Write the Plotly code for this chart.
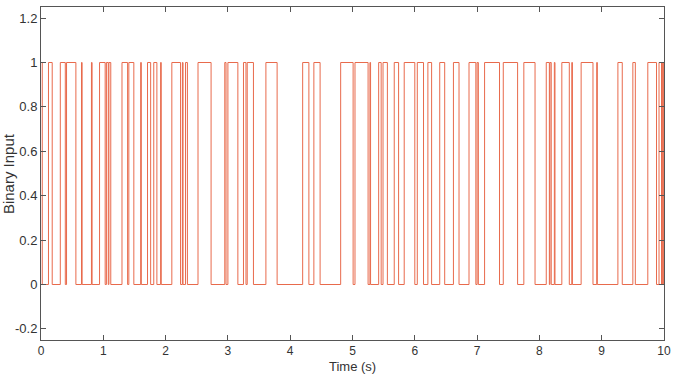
import plotly.graph_objects as go

# Transition times (s) and the level held from each time until the next one
switch_times = [0.00, 0.02, 0.12, 0.18, 0.31, 0.39, 0.41, 0.56, 0.65, 0.66,
                0.81, 0.82, 0.94, 1.03, 1.05, 1.08, 1.09, 1.12, 1.30, 1.39,
                1.41, 1.49, 1.60, 1.61, 1.71, 1.76, 1.81, 1.86, 1.92, 1.93,
                2.10, 2.24, 2.27, 2.28, 2.32, 2.35, 2.52, 2.73, 2.95, 2.97,
                3.00, 3.16, 3.25, 3.29, 3.31, 3.41, 3.61, 3.79, 4.20, 4.30,
                4.38, 4.48, 4.81, 5.01, 5.04, 5.25, 5.28, 5.29, 5.42, 5.46,
                5.49, 5.56, 5.67, 5.74, 5.83, 6.00, 6.04, 6.14, 6.21, 6.27,
                6.40, 6.48, 6.62, 6.71, 6.87, 6.98, 7.00, 7.02, 7.12, 7.36,
                7.42, 7.65, 7.75, 7.93, 8.11, 8.16, 8.17, 8.19, 8.24, 8.25,
                8.36, 8.48, 8.52, 8.53, 8.67, 8.86, 8.92, 8.93, 9.26, 9.33,
                9.50, 9.54, 9.74, 9.88, 9.92, 9.96, 9.97, 9.98, 9.99, 10.00]
levels = [1, 0, 1, 0, 1, 0, 1, 0, 1, 0,
          1, 0, 1, 0, 1, 0, 1, 0, 1, 0,
          1, 0, 1, 0, 1, 0, 1, 0, 1, 0,
          1, 0, 1, 0, 1, 0, 1, 0, 1, 0,
          1, 0, 1, 0, 1, 0, 1, 0, 1, 0,
          1, 0, 1, 0, 1, 0, 1, 0, 1, 0,
          1, 0, 1, 0, 1, 0, 1, 0, 1, 0,
          1, 0, 1, 0, 1, 0, 1, 0, 1, 0,
          1, 0, 1, 0, 1, 0, 1, 0, 1, 0,
          1, 0, 1, 0, 1, 0, 1, 0, 1, 0,
          1, 0, 1, 0, 1, 0, 1, 0, 1, 1]

x_ticks = [0, 1, 2, 3, 4, 5, 6, 7, 8, 9, 10]
x_tick_labels = ["0", "1", "2", "3", "4", "5", "6", "7", "8", "9", "10"]
y_ticks = [-0.2, 0, 0.2, 0.4, 0.6, 0.8, 1.0, 1.2]
y_tick_labels = ["-0.2", "0", "0.2", "0.4", "0.6", "0.8", "1", "1.2"]

line_color = "rgb(232,106,76)"
font_family = "Liberation Sans, Arial, sans-serif"

fig = go.Figure()
fig.add_trace(go.Scatter(
    x=switch_times, y=levels, mode="lines", line_shape="hv",
    line=dict(color=line_color, width=1), showlegend=False,
))

axis_common = dict(
    showline=True, linecolor="#555", linewidth=1, mirror="ticks",
    ticks="inside", ticklen=5, tickcolor="#555", showgrid=False,
    zeroline=False, automargin=False,
)

fig.update_layout(
    width=681, height=374,
    margin=dict(l=41, r=17, t=7, b=34),
    paper_bgcolor="white", plot_bgcolor="white",
    font=dict(family=font_family, color="#333"),
    xaxis=dict(range=[0, 10], tickvals=x_ticks, ticktext=x_tick_labels,
               tickfont=dict(size=12, color="#333", family=font_family),
               **axis_common),
    yaxis=dict(range=[-0.25, 1.25], tickvals=y_ticks, ticktext=y_tick_labels,
               tickfont=dict(size=13, color="#333", family=font_family),
               **axis_common),
    annotations=[
        dict(text="Binary Input", textangle=-90, showarrow=False,
             xref="paper", yref="paper", x=-0.052, y=0.5,
             xanchor="center", yanchor="middle",
             font=dict(size=15, color="#333", family=font_family)),
        dict(text="Time (s)", showarrow=False,
             xref="paper", yref="paper", x=0.5, y=-0.079,
             xanchor="center", yanchor="middle",
             font=dict(size=13, color="#333", family=font_family)),
    ],
)

fig.write_html("out.html")
